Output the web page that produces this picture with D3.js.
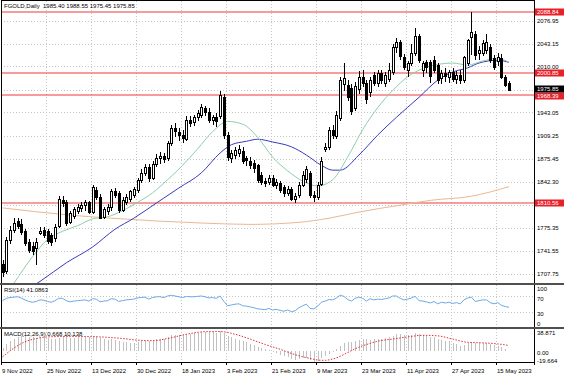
<!DOCTYPE html>
<html>
<head>
<meta charset="utf-8">
<script src="https://cdn.jsdelivr.net/npm/d3@7"></script>
<style>
body { margin: 0; background: #fff; }
svg { display: block; font-family: "Liberation Sans", Arial, sans-serif; }
</style>
</head>
<body>
<svg id="chart" width="564" height="376"></svg>
<script>
// daily bars, 9 Nov 2022 .. 18 May 2023 (bar index 0..135)
const openP = [1722,1712,1757,1772,1785,1780,1770,1754,1748,1745,1768,1772,1770,1765,1760,1778,1816,1812,1784,1792,
  1800,1804,1808,1812,1798,1830,1820,1792,1800,1805,1828,1825,1802,1812,1816,1822,1830,1845,1855,1864,
  1848,1868,1877,1880,1876,1898,1920,1915,1910,1905,1932,1928,1936,1940,1950,1944,1932,1936,1938,1966,
  1910,1877,1880,1884,1887,1876,1872,1870,1866,1852,1843,1842,1848,1838,1840,1834,1826,1832,1818,1822,
  1838,1845,1855,1823,1820,1840,1890,1893,1918,1910,1935,1984,1983,1978,1950,1976,1995,1986,1972,1998,
  1986,2000,1986,1992,2002,2038,2045,2024,2005,2015,2030,2055,2005,2016,2016,2019,2012,1992,2000,1995,
  2002,1992,1998,1990,2015,2053,2058,2030,2030,2034,2038,2022,2018,2022,1995,1985.40];
const highP = [1728,1762,1778,1789,1790,1788,1774,1758,1755,1760,1776,1776,1773,1768,1780,1822,1822,1815,1800,1806,
  1810,1812,1815,1814,1838,1835,1824,1806,1810,1832,1833,1828,1820,1824,1830,1834,1848,1860,1868,1868,
  1872,1882,1886,1884,1902,1925,1928,1920,1918,1938,1938,1940,1946,1955,1953,1950,1940,1942,1975,1970,
  1915,1888,1892,1896,1892,1880,1878,1874,1868,1856,1848,1852,1852,1846,1843,1838,1836,1834,1826,1842,
  1858,1865,1858,1828,1842,1878,1898,1922,1925,1945,1995,2015,1990,1985,1988,2003,2005,1990,1995,2002,
  2005,2005,2002,2015,2042,2052,2048,2028,2018,2043,2066,2058,2018,2020,2020,2025,2015,2005,2008,2005,
  2008,2003,2005,2025,2050,2088.84,2062,2040,2048,2058,2042,2026,2030,2028,1998,1988.55];
const lowP = [1704,1708,1752,1768,1774,1765,1748,1738,1735,1721,1764,1760,1752,1748,1755,1775,1806,1778,1780,1788,
  1795,1798,1800,1795,1795,1815,1788,1788,1793,1800,1818,1796,1798,1808,1812,1818,1826,1840,1850,1842,
  1845,1864,1868,1870,1872,1894,1908,1902,1898,1902,1922,1924,1930,1935,1938,1928,1925,1922,1934,1905,
  1872,1870,1875,1878,1868,1865,1860,1855,1840,1838,1834,1838,1834,1832,1826,1820,1822,1814,1810.6,1818,
  1834,1840,1818,1812,1815,1836,1885,1888,1905,1905,1930,1975,1960,1940,1945,1970,1980,1955,1965,1982,
  1980,1985,1980,1988,1998,2030,2020,2005,1995,2010,2025,2015,1995,2000,1986,2000,1985,1985,1988,1986,
  1988,1985,1985,1986,2010,2027,2020,2020,2025,2028,2015,2005,2010,1992,1980,1975.45];
const closeP = [1710,1757,1772,1782,1778,1768,1752,1743,1740,1754,1771,1765,1755,1755,1776,1817,1812,1782,1797,1802,
  1806,1808,1812,1798,1834,1820,1790,1803,1806,1828,1822,1800,1816,1820,1828,1831,1845,1855,1864,1848,
  1868,1877,1880,1876,1898,1920,1915,1910,1905,1932,1928,1936,1942,1951,1944,1932,1936,1930,1968,1910,
  1878,1884,1888,1890,1872,1873,1866,1862,1844,1842,1840,1848,1838,1842,1830,1825,1832,1818,1822,1837,
  1852,1860,1823,1820,1837,1873,1893,1918,1910,1940,1990,1993,1965,1945,1982,1994,1986,1962,1990,1986,
  2000,1990,1998,2005,2038,2046,2024,2010,2015,2030,2055,2020,2015,2008,1995,2005,1990,2000,1995,2002,
  1992,1998,1990,2024,2048,2060,2027,2034,2044,2045,2019,2009,2024,1994,1983,1975.85];

// moving averages: [bar index], [value]
const maFastIdx = [0,3,8,12,16,20,24,28,32,36,40,44,48,52,56,60,64,68,72,76,80,84,88,92,96,100,104,108,112,116,120,124,128,132,135];
const maFastVal = [1670,1694,1733,1758,1770,1778,1788,1791,1800,1812,1826,1845,1866,1890,1915,1930,1926,1907,1878,1858,1843,1836,1845,1878,1918,1950,1975,1995,2007,2013,2015,2012,2018,2022,2016];
const maMidIdx = [0,5,10,17,24,30,35,41,47,53,58,61,65,68,72,77,81,85,88,90,95,100,105,111,116,120,124,127,132,135];
const maMidVal = [1665,1680,1697,1724,1747,1773,1789,1811,1833,1855,1884,1896,1901,1904,1900,1893,1881,1866,1859,1859,1881,1910,1936,1965,1990,2002,2008,2015,2019,2016];
const maSlowIdx = [0,17,29,53,66,79,87,95,106,114,125,135];
const maSlowVal = [1804,1794,1789,1782,1780,1783,1789,1798,1808,1815,1821,1835];

const rsiVal = [58,64,66,67,68,65,60,56,54,56,60,59,56,54,58,64,64,58,55,57,
  58,59,60,57,63,62,55,57,58,63,62,56,58,60,61,62,65,66,67,62,
  66,68,68,66,70,72,70,68,66,69,68,68,69,70,68,65,66,64,70,56,
  45,47,49,50,45,44,42,40,37,36,35,38,34,36,33,31,34,30,32,40,
  45,49,38,37,44,54,57,61,60,65,72,69,61,57,64,67,64,57,63,60,
  62,61,63,65,70,70,64,60,62,65,69,58,57,55,52,56,50,54,52,54,
  51,53,50,60,65,67,56,58,60,60,53,50,53,46,43,41.0863];
const rsiLevels = [70, 30];

const macdMain = [6,13,18,22,25,27,27,26,25,24,25,25,24,22,22,24,27,26,24,24,
  25,26,26,25,27,27,24,22,21,22,21,18,17,16,15,15,16,18,19,18,
  20,22,23,23,25,29,30,30,30,32,32,33,34,35,36,35,35,34,37,34,
  28,25,23,21,18,16,13,11,8,5,3,1,-2,-4,-7,-10,-12,-15,-16,-15,
  -13,-13,-17,-19.664,-18,-14,-10,-6,-2,3,10,15,17,17,18,20,22,22,21,22,
  22,23,24,25,28,31,31,30,29,30,33,31,30,28,26,25,23,21,19,18,
  14,12,10,11,14,17,15,14,14,15,13,11,10,7,4,0.668];
const macdSigIdx = [0,3,6,9,12,18,26,32,36,40,44,49,54,58,62,66,70,74,78,82,84,86,88,90,92,95,98,100,104,108,112,116,120,124,128,132,135];
const macdSigVal = [-11,5,17,23,26,27,26,23,20,19,23,31,35.7,36,31,22,12,3,-7,-14,-17,-17.5,-15,-10,-3,7,14,18,22,26,29,28,22,16,15,13,10.138];

const priceTicks = [2076.95,2043.15,2010.00,1976.20,1943.05,1909.25,1875.45,1842.30,1808.50,1775.35,1741.55,1707.75];
const levelLines = [2088.84,2000.85,1968.39,1810.56];
const lastPrice = 1975.85;
const dateLabels = ["9 Nov 2022","25 Nov 2022","13 Dec 2022","30 Dec 2022","18 Jan 2023","3 Feb 2023",
  "21 Feb 2023","9 Mar 2023","23 Mar 2023","11 Apr 2023","27 Apr 2023","15 May 2023"];
const dateBars = [0,12,24,36,48,60,72,84,96,108,120,132];

const svg = d3.select("#chart");
const left = 1, right = 534;
const mainP = {top: 1, bottom: 283}, rsiP = {top: 285, bottom: 327}, macdP = {top: 329, bottom: 362};
const fontSize = 6;

const x = d3.scaleLinear().domain([0, 135]).range([2.5, 509]);
const y = d3.scaleLinear().domain([1707.75, 2076.95]).range([274, 20.5]);
const yR = d3.scaleLinear().domain([0, 100]).range([323.3, 284.3]);
const yM = d3.scaleLinear().domain([-19.664, 38.871]).range([361.5, 330]);

const defs = svg.append("defs");
[["clipMain", mainP], ["clipRsi", rsiP], ["clipMacd", macdP]].forEach(([id, p]) => {
  defs.append("clipPath").attr("id", id).append("rect")
    .attr("x", left).attr("y", p.top).attr("width", right - left).attr("height", p.bottom - p.top);
});

// grid
const grid = svg.append("g").attr("stroke", "#c6c6c6").attr("stroke-dasharray", "1,2").attr("shape-rendering", "crispEdges");
grid.selectAll("line.h").data(priceTicks).join("line")
  .attr("x1", left).attr("x2", right)
  .attr("y1", d => Math.round(y(d)) + 0.5).attr("y2", d => Math.round(y(d)) + 0.5);
dateBars.forEach(b => {
  const tx = Math.round(x(b) - 1.5) + 0.5;
  [mainP, rsiP, macdP].forEach(p => {
    grid.append("line").attr("x1", tx).attr("x2", tx).attr("y1", p.top).attr("y2", p.bottom);
  });
});
grid.selectAll("line.r").data(rsiLevels).join("line")
  .attr("x1", left).attr("x2", right)
  .attr("y1", d => Math.round(yR(d)) + 0.5).attr("y2", d => Math.round(yR(d)) + 0.5);

// horizontal level lines
svg.append("g").selectAll("line").data(levelLines).join("line")
  .attr("x1", left).attr("x2", right)
  .attr("y1", d => Math.round(y(d))).attr("y2", d => Math.round(y(d)))
  .attr("stroke", "#ee3a3a").attr("stroke-width", 1.2);

// moving averages
const gMain = svg.append("g").attr("clip-path", "url(#clipMain)");
function maLine(idx, vals, color) {
  const pts = idx.map((b, k) => [b, vals[k]]);
  gMain.append("path").datum(pts)
    .attr("fill", "none").attr("stroke", color).attr("stroke-width", 1)
    .attr("d", d3.line().x(d => x(d[0])).y(d => y(d[1])).curve(d3.curveMonotoneX));
}
maLine(maSlowIdx, maSlowVal, "#eab891");
maLine(maMidIdx, maMidVal, "#3a3ac0");
maLine(maFastIdx, maFastVal, "#8ccfa8");

// candles
const bars = d3.range(openP.length);
const cg = gMain.append("g").attr("shape-rendering", "crispEdges");
cg.selectAll("line").data(bars).join("line")
  .attr("x1", i => Math.round(x(i)) + 0.5).attr("x2", i => Math.round(x(i)) + 0.5)
  .attr("y1", i => y(highP[i])).attr("y2", i => y(lowP[i]))
  .attr("stroke", "#000");
cg.selectAll("rect").data(bars).join("rect")
  .attr("x", i => Math.round(x(i)) - 0.5)
  .attr("width", 2)
  .attr("y", i => Math.round(y(Math.max(openP[i], closeP[i]))) + 0.5)
  .attr("height", i => Math.max(1, Math.round(Math.abs(y(openP[i]) - y(closeP[i])))))
  .attr("fill", i => closeP[i] >= openP[i] ? "#fff" : "#000")
  .attr("stroke", "#000");

// RSI
svg.append("path").datum(rsiVal).attr("clip-path", "url(#clipRsi)")
  .attr("fill", "none").attr("stroke", "#6ea8e6").attr("stroke-width", 1)
  .attr("d", d3.line().x((d, i) => x(i)).y(d => yR(d)));

// MACD histogram + signal
svg.append("g").attr("clip-path", "url(#clipMacd)").attr("shape-rendering", "crispEdges")
  .selectAll("line").data(macdMain).join("line")
  .attr("x1", (d, i) => Math.round(x(i)) + 0.5).attr("x2", (d, i) => Math.round(x(i)) + 0.5)
  .attr("y1", yM(0)).attr("y2", d => yM(d))
  .attr("stroke", "#c0c0c0");
svg.append("path").datum(macdSigIdx.map((b, k) => [b, macdSigVal[k]])).attr("clip-path", "url(#clipMacd)")
  .attr("fill", "none").attr("stroke", "#e03232").attr("stroke-width", 1).attr("stroke-dasharray", "1.5,1.5")
  .attr("d", d3.line().x(d => x(d[0])).y(d => yM(d[1])).curve(d3.curveMonotoneX));

// frames and separators
const fr = svg.append("g").attr("fill", "none").attr("shape-rendering", "crispEdges");
fr.append("line").attr("x1", left + 0.5).attr("x2", left + 0.5).attr("y1", 0).attr("y2", macdP.bottom).attr("stroke", "#000");
fr.append("line").attr("x1", right + 0.5).attr("x2", right + 0.5).attr("y1", 0).attr("y2", macdP.bottom + 3).attr("stroke", "#000");
fr.append("line").attr("x1", left).attr("x2", right).attr("y1", 0.5).attr("y2", 0.5).attr("stroke", "#000");
fr.append("line").attr("x1", left).attr("x2", right + 1).attr("y1", macdP.bottom + 0.5).attr("y2", macdP.bottom + 0.5).attr("stroke", "#000");
[mainP.bottom + 1, rsiP.bottom + 1].forEach(sy => {
  fr.append("line").attr("x1", 0).attr("x2", 564).attr("y1", sy).attr("y2", sy).attr("stroke", "#505050").attr("stroke-width", 2);
});

// date axis
const ax = svg.append("g").attr("font-size", fontSize).attr("fill", "#000");
dateBars.forEach((b, k) => {
  const tx = Math.round(x(b) - 1.5) + 0.5;
  ax.append("line").attr("x1", tx).attr("x2", tx).attr("y1", macdP.bottom).attr("y2", macdP.bottom + 3)
    .attr("stroke", "#000").attr("shape-rendering", "crispEdges");
  ax.append("text").attr("x", tx + 0.5).attr("y", 372.5).text(dateLabels[k]);
});

// right axes: tick labels hidden under the price boxes are not drawn
const ra = svg.append("g").attr("font-size", fontSize).attr("fill", "#000");
const boxed = levelLines.concat([lastPrice]);
priceTicks.filter(v => boxed.every(b => Math.abs(y(b) - y(v)) > 6)).forEach(v => {
  ra.append("text").attr("x", 537).attr("y", y(v) + 2.2).text(v.toFixed(2));
});
function priceBox(v, color, shift) {
  const cy = Math.round(y(v)) + shift;
  ra.append("rect").attr("x", 535).attr("y", cy - 3.5).attr("width", 29).attr("height", 7).attr("fill", color);
  ra.append("text").attr("x", 537).attr("y", cy + 2.2).attr("fill", "#fff").text(v.toFixed(2));
}
levelLines.forEach(v => priceBox(v, "#e8202a", v === 1968.39 ? 1 : 0));
priceBox(lastPrice, "#000", -1);

[[100, 291], [70, 300.5], [30, 316], [0, 325.5]].forEach(([v, ty]) => {
  ra.append("text").attr("x", 537).attr("y", ty).text(v);
});
[["38.871", 334.5], ["0.00", 354.5], ["-19.664", 362.5]].forEach(([v, ty]) => {
  ra.append("text").attr("x", 537).attr("y", ty).text(v);
});

// window captions
const cap = svg.append("g").attr("font-size", fontSize).attr("fill", "#000");
cap.append("text").attr("x", 4).attr("y", 8).attr("xml:space", "preserve").text("FGOLD,Daily  1985.40 1988.55 1975.45 1975.85");
cap.append("text").attr("x", 4).attr("y", 292).text("RSI(14) 41.0863");
cap.append("text").attr("x", 4).attr("y", 336).text("MACD(12,26,9) 0.668 10.138");
</script>
</body>
</html>
